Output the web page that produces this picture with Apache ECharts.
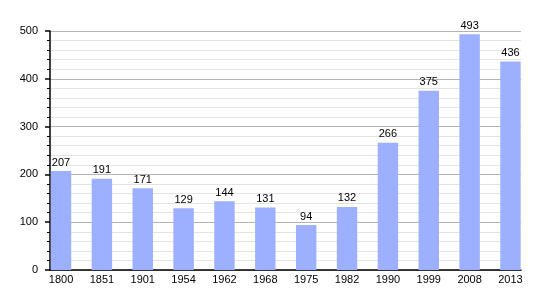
<!DOCTYPE html>
<html><head><meta charset="utf-8">
<script src="https://cdn.jsdelivr.net/npm/echarts@6/dist/echarts.min.js"></script>
<style>html,body{margin:0;padding:0;background:#fff}#c{width:550px;height:300px}</style>
</head><body><div id="c"></div>
<script>
const years = ['1800','1851','1901','1954','1962','1968','1975','1982','1990','1999','2008','2013'];
const population = [207,191,171,129,144,131,94,132,266,375,493,436];
const yTicks = [0,100,200,300,400,500];

const font = 'Liberation Sans, Arial, sans-serif';
const chart = echarts.init(document.getElementById('c'), null, {renderer:'canvas'});
chart.setOption({
  animation:false,
  backgroundColor:'#fff',
  grid:[
    {left:50, right:29, top:31, bottom:30},
    {left:40.6, right:19.1, top:31, bottom:30}
  ],
  xAxis:[
    {gridIndex:0, type:'value', min:0, max:1, show:true,
     axisLine:{show:true, lineStyle:{color:'#000', width:1.5}},
     axisTick:{show:false}, axisLabel:{show:false}, splitLine:{show:false}},
    {gridIndex:1, type:'category', data:years, boundaryGap:true,
     axisLine:{show:false}, axisTick:{show:false},
     axisLabel:{color:'#000', fontSize:11, fontFamily:font, margin:4}}
  ],
  yAxis:[
    {gridIndex:0, type:'value', min:yTicks[0], max:yTicks[yTicks.length-1], interval:100,
     axisLine:{show:true, lineStyle:{color:'#000', width:1.5}},
     axisTick:{show:true, length:5, lineStyle:{color:'#000', width:1.5}},
     minorTick:{show:true, splitNumber:5, length:3, lineStyle:{color:'#000', width:1}},
     axisLabel:{color:'#000', fontSize:11, fontFamily:font, margin:12},
     splitLine:{show:true, lineStyle:{color:'#b4b4b4', width:1}},
     minorSplitLine:{show:true, lineStyle:{color:'#e4e4e4', width:1}}},
    {gridIndex:1, type:'value', min:0, max:500, show:false}
  ],
  series:[{
    type:'bar', xAxisIndex:1, yAxisIndex:1, data:population,
    barWidth:'50%',
    itemStyle:{color:'#9dafff'},
    label:{show:true, position:'top', distance:3, color:'#000', fontSize:11, fontFamily:font}
  }]
});
</script></body></html>
